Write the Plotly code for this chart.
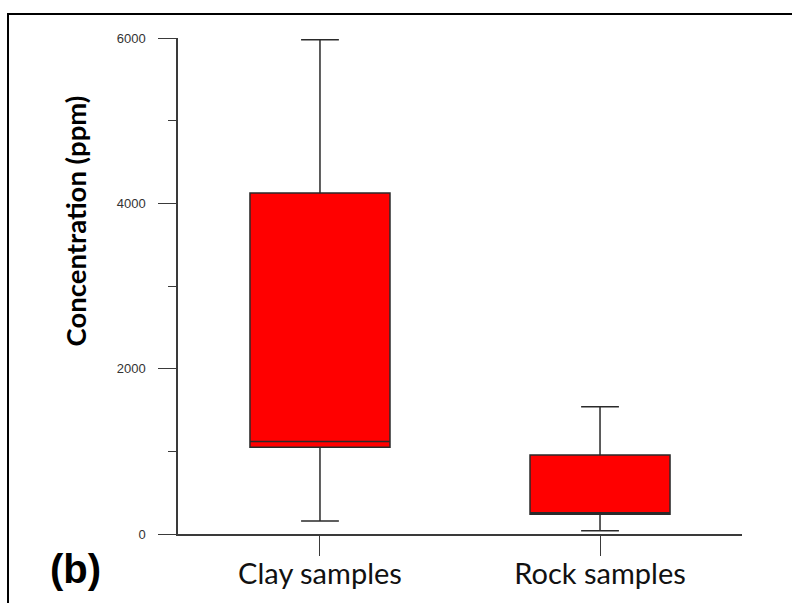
import plotly.graph_objects as go

# Box-plot summary statistics (ppm)
categories = ["Clay samples", "Rock samples"]
lower_whisker = [157, 40]
q1_values = [1050, 238]
median_values = [1120, 258]
q3_values = [4125, 955]
upper_whisker = [5980, 1540]

y_tick_values = [0, 2000, 4000, 6000]
y_tick_labels = ["0", "2000", "4000", "6000"]

fig = go.Figure()
fig.add_trace(go.Box(
    x=categories,
    q1=q1_values,
    median=median_values,
    q3=q3_values,
    lowerfence=lower_whisker,
    upperfence=upper_whisker,
    boxpoints=False,
    width=0.5,
    whiskerwidth=0.27,
    fillcolor="#ff0000",
    line=dict(color="#2a2a2a", width=1.5),
    showlegend=False,
    hoverinfo="skip",
))

fig.update_layout(
    width=792,
    height=603,
    margin=dict(l=178, r=50, t=38, b=69),
    paper_bgcolor="white",
    plot_bgcolor="white",
    xaxis=dict(
        type="category",
        range=[-0.507, 1.507],
        automargin=False,
        showline=True,
        linecolor="#3a3a3a",
        linewidth=1.5,
        ticks="outside",
        ticklen=20,
        tickwidth=1.2,
        tickcolor="#3a3a3a",
        ticklabelstandoff=-7,
        showgrid=False,
        zeroline=False,
        tickfont=dict(family="Lato", size=29, color="#111111"),
    ),
    yaxis=dict(
        range=[0, 6000],
        automargin=False,
        tickvals=y_tick_values,
        ticktext=y_tick_labels,
        showline=True,
        linecolor="#3a3a3a",
        linewidth=1.5,
        ticks="outside",
        ticklen=18,
        tickwidth=1.2,
        tickcolor="#3a3a3a",
        ticklabelstandoff=10,
        minor=dict(dtick=1000, ticks="outside", ticklen=8, tickwidth=1.2,
                   tickcolor="#3a3a3a", showgrid=False),
        showgrid=False,
        zeroline=False,
        tickfont=dict(family="Liberation Sans", size=13, color="#333333"),
    ),
    shapes=[
        # outer panel frame
        dict(type="rect", xref="paper", yref="paper",
             x0=-0.3014, x1=1.6, y0=-0.6, y1=1.0484,
             line=dict(color="black", width=2), fillcolor="rgba(0,0,0,0)",
             layer="below"),
    ],
    annotations=[
        dict(text="<b>Concentration (ppm)</b>", textangle=-90,
             xref="paper", yref="paper", x=-0.182, y=0.631,
             xanchor="center", yanchor="middle", showarrow=False,
             font=dict(family="Lato", size=27.5, color="black")),
        dict(text="<b>(b)</b>", xref="paper", yref="paper",
             x=-0.181, y=-0.07, xanchor="center", yanchor="middle",
             showarrow=False,
             font=dict(family="Liberation Sans", size=40, color="black")),
    ],
)

fig.write_html("out.html")
